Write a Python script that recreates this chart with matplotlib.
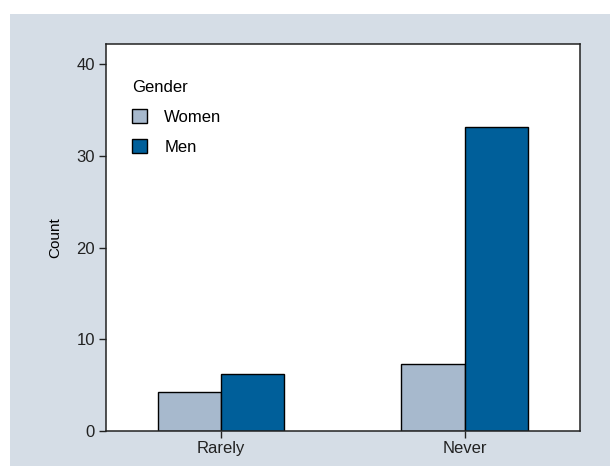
import matplotlib
matplotlib.use("Agg")
from matplotlib import pyplot as plt
from matplotlib.patches import Rectangle
import numpy as np

# Data
categories = ["Rarely", "Never"]
women = [4.2, 7.3]
men = [6.2, 33.2]
series_names = ["Women", "Men"]
colors = ["#a7b9cd", "#005f9a"]
yticks = [0, 10, 20, 30, 40]

plt.rcParams['font.family'] = ['Liberation Sans', 'DejaVu Sans']

fig = plt.figure(figsize=(6.10, 4.66), dpi=100)
fig.patch.set_facecolor("white")
# light blue panel behind the chart
fig.patches.append(Rectangle((10 / 610, 0), 600 / 610, 452 / 466,
                             transform=fig.transFigure, facecolor="#d5dde6",
                             edgecolor="none", zorder=-5))

ax = fig.add_axes([106 / 610, 35 / 466, 474 / 610, 387 / 466])
ax.set_facecolor("white")

x = np.arange(len(categories))
w = 0.26
ax.bar(x - w / 2, women, width=w, color=colors[0], edgecolor="black",
       linewidth=1.0, label=series_names[0])
ax.bar(x + w / 2, men, width=w, color=colors[1], edgecolor="black",
       linewidth=1.0, label=series_names[1])

ax.set_xlim(-0.472, 1.473)
ax.set_ylim(0, 42.2)
ax.set_xticks(x)
ax.set_xticklabels(categories)
ax.set_yticks(yticks)
ax.set_ylabel("Count", fontsize=11, labelpad=10)

for s in ax.spines.values():
    s.set_linewidth(1.1)
    s.set_color("#222222")
ax.tick_params(axis="both", direction="out", length=5, width=1.0,
               labelsize=12, colors="#222222")
ax.tick_params(axis="x", pad=2)
ax.tick_params(axis="y", pad=3)

leg = ax.legend(title="Gender", loc="upper left", bbox_to_anchor=(0.023, 0.945),
                frameon=False, fontsize=12, title_fontsize=12,
                handlelength=0.9, handleheight=0.9, handletextpad=1.05,
                labelspacing=0.85, alignment="left")

fig.savefig("out.png", dpi=100)
